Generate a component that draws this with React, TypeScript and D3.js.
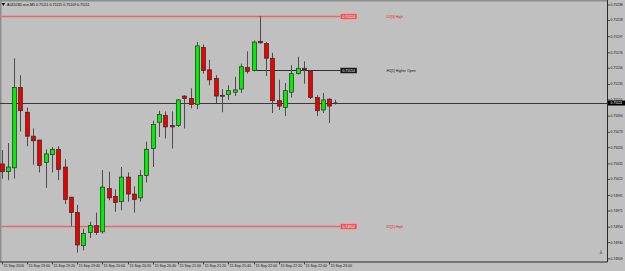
import React from 'react';
import * as d3 from 'd3';

const width = 625;
const height = 271;

// chart area (price axis on the right, time axis at the bottom)
const plotRight = 607.5;
const plotBottom = 262;

const title = 'AUDUSD.ecn,M5  0.75111 0.75115 0.75109 0.75111';

// one label every 4 bars (20 minutes of M5 bars)
const timeLabels = [
  '15 Sep 2016', '15 Sep 19:00', '15 Sep 19:20', '15 Sep 19:40', '15 Sep 20:00',
  '15 Sep 20:20', '15 Sep 20:40', '15 Sep 21:00', '15 Sep 21:20', '15 Sep 21:40',
  '15 Sep 22:00', '15 Sep 22:20', '15 Sep 22:40', '15 Sep 23:00'
];

const opens = [
  0.75032, 0.75022, 0.75027, 0.75131, 0.75099, 0.75068, 0.75063, 0.75034, 0.75044, 0.75051,
  0.75028, 0.74989, 0.74969, 0.74926, 0.74943, 0.74952, 0.74944, 0.75000, 0.74990, 0.74983,
  0.75015, 0.74993, 0.74988, 0.75017, 0.75052, 0.75086, 0.75095, 0.75082, 0.75082, 0.75120,
  0.75117, 0.75109, 0.75183, 0.75154, 0.75143, 0.75121, 0.75122, 0.75125, 0.75129, 0.75157,
  0.75153, 0.75191, 0.75188, 0.75169, 0.75114, 0.75105, 0.75125, 0.75149, 0.75156, 0.75152,
  0.75118, 0.75102, 0.75116, 0.75111
];
const highs = [
  0.75050, 0.75059, 0.75169, 0.75147, 0.75105, 0.75078, 0.75063, 0.75051, 0.75054, 0.75055,
  0.75038, 0.74989, 0.74979, 0.74948, 0.74957, 0.74969, 0.75024, 0.75022, 0.74999, 0.75028,
  0.75021, 0.75003, 0.75024, 0.75061, 0.75088, 0.75101, 0.75100, 0.75100, 0.75116, 0.75121,
  0.75130, 0.75190, 0.75187, 0.75167, 0.75147, 0.75129, 0.75134, 0.75145, 0.75162, 0.75178,
  0.75192, 0.75224, 0.75190, 0.75176, 0.75141, 0.75137, 0.75160, 0.75171, 0.75165, 0.75154,
  0.75121, 0.75124, 0.75117, 0.75115
];
const lows = [
  0.75013, 0.75011, 0.75013, 0.75074, 0.75055, 0.75031, 0.75021, 0.75001, 0.75021, 0.75011,
  0.74980, 0.74951, 0.74917, 0.74920, 0.74936, 0.74940, 0.74942, 0.74985, 0.74970, 0.74972,
  0.74983, 0.74969, 0.74983, 0.75008, 0.75028, 0.75067, 0.75065, 0.75052, 0.75080, 0.75078,
  0.75104, 0.75103, 0.75149, 0.75134, 0.75111, 0.75099, 0.75115, 0.75120, 0.75124, 0.75149,
  0.75152, 0.75188, 0.75146, 0.75098, 0.75102, 0.75094, 0.75118, 0.75148, 0.75136, 0.75116,
  0.75094, 0.75098, 0.75085, 0.75109
];
const closes = [
  0.75022, 0.75028, 0.75131, 0.75101, 0.75068, 0.75062, 0.75030, 0.75045, 0.75051, 0.75025,
  0.74986, 0.74969, 0.74927, 0.74942, 0.74952, 0.74943, 0.75002, 0.74988, 0.74982, 0.75015,
  0.74993, 0.74986, 0.75017, 0.75051, 0.75083, 0.75096, 0.75080, 0.75080, 0.75115, 0.75117,
  0.75109, 0.75185, 0.75153, 0.75141, 0.75120, 0.75120, 0.75127, 0.75128, 0.75158, 0.75152,
  0.75190, 0.75189, 0.75169, 0.75114, 0.75107, 0.75127, 0.75149, 0.75156, 0.75154, 0.75118,
  0.75101, 0.75115, 0.75107, 0.75111
];

const priceTicks = [
  '0.75238', '0.75218', '0.75197', '0.75176', '0.75156', '0.75135', '0.75115', '0.75094',
  '0.75073', '0.75053', '0.75032', '0.75012', '0.74991', '0.74971', '0.74950', '0.74930', '0.74909'
];

const levelPrices = [0.75224, 0.75154, 0.74952];
const levelNames = ['D1[0] High', 'H1[1] Higher Open', 'D1[1] High'];
const levelStartBars = [0, 40, 0];
const levelKinds = ['high', 'open', 'high'];

const lastPrice = 0.75111;

const font = '"Liberation Sans", Arial, sans-serif';

function App() {
  const n = opens.length;
  const x = d3.scaleLinear().domain([0, 1]).range([1.5, 7.8]);
  const y = d3.scaleLinear().domain([0.749049, 0.752445]).range([plotBottom, 0]);

  const bodyW = 4;
  const lastX = x(n - 1);
  const boxX = lastX + 5;
  const nameX = lastX + 51;

  const candles = d3.range(n).map(i => {
    const o = opens[i], c = closes[i];
    const cx = Math.round(x(i)) + 0.5;
    const top = y(Math.max(o, c));
    const bot = y(Math.min(o, c));
    const flat = Math.abs(o - c) < 0.000005;
    const fill = c > o ? '#00ee00' : '#ee0000';
    return (
      <g key={i}>
        <line x1={cx} x2={cx} y1={y(highs[i])} y2={y(lows[i])} stroke="#4d4d4d" strokeWidth={1} />
        {flat ? (
          <line x1={cx - bodyW / 2} x2={cx + bodyW / 2} y1={top} y2={top} stroke="#333" strokeWidth={1} />
        ) : (
          <rect x={cx - bodyW / 2} y={top} width={bodyW} height={Math.max(1, bot - top)}
            fill={fill} stroke="#2b2b2b" strokeWidth={0.7} />
        )}
      </g>
    );
  });

  return (
    <svg width={width} height={height} style={{ position: 'fixed', left: 0, top: 0 }}
      fontFamily={font}>
      <rect width={width} height={height} fill="#c0c0c0" />
      <rect x={0} y={0} width={plotRight} height={1.5} fill="#8e8e8e" />
      <rect x={0} y={0} width={1.5} height={plotBottom} fill="#8e8e8e" />

      {/* horizontal levels */}
      {levelPrices.map((p, i) => {
        const ly = Math.round(y(p)) + 0.5;
        const red = levelKinds[i] === 'high';
        return (
          <g key={'lvl' + i}>
            <line x1={x(levelStartBars[i])} x2={boxX} y1={ly} y2={ly}
              stroke={red ? '#e26a6a' : '#303030'} strokeWidth={red ? 1.3 : 1} />
            <rect x={boxX} y={ly - 2.6} width={16.5} height={5.2}
              fill={red ? '#ef4f4f' : '#111'} stroke={red ? '#f7a0a0' : '#666'} strokeWidth={0.4} />
            <text x={boxX + 8.25} y={ly} fontSize={3.4} fill="#fff" textAnchor="middle"
              dominantBaseline="central">{p.toFixed(5)}</text>
            <text x={nameX} y={ly} fontSize={3.5} fill={red ? '#e02020' : '#111'}
              dominantBaseline="central">{levelNames[i]}</text>
          </g>
        );
      })}

      {/* last price line */}
      <line x1={0} x2={plotRight} y1={Math.round(y(lastPrice)) + 0.5} y2={Math.round(y(lastPrice)) + 0.5}
        stroke="#3a3a3a" strokeWidth={1} />

      {candles}

      {/* title */}
      <path d="M1.5,3 L5,3 L3.25,6 Z" fill="#000" />
      <text x={7} y={4.6} fontSize={3.6} fill="#000" dominantBaseline="central">{title}</text>

      {/* price axis */}
      <line x1={plotRight} x2={plotRight} y1={0} y2={plotBottom} stroke="#2a2a2a" strokeWidth={1} />
      {priceTicks.map(t => {
        const ty = y(+t);
        return (
          <g key={t}>
            <line x1={plotRight} x2={plotRight + 2.5} y1={ty} y2={ty} stroke="#2a2a2a" strokeWidth={0.8} />
            <text x={610.5} y={ty} fontSize={3.4} fill="#111" dominantBaseline="central">{t}</text>
          </g>
        );
      })}
      <rect x={plotRight + 0.5} y={y(lastPrice) - 2.5} width={width - plotRight} height={5} fill="#000" />
      <text x={610.5} y={y(lastPrice)} fontSize={3.4} fill="#fff" dominantBaseline="central">
        {lastPrice.toFixed(5)}
      </text>

      {/* time axis */}
      <line x1={0} x2={plotRight} y1={plotBottom} y2={plotBottom} stroke="#2a2a2a" strokeWidth={1} />
      {timeLabels.map((t, j) => {
        const tx = Math.round(x(j * 4)) + 0.5;
        return (
          <g key={t}>
            <line x1={tx} x2={tx} y1={plotBottom} y2={plotBottom + 2.5} stroke="#2a2a2a" strokeWidth={0.8} />
            <text x={tx + 1} y={265.6} fontSize={3.6} fill="#111" dominantBaseline="central">{t}</text>
          </g>
        );
      })}

      {/* chart shift mark */}
      <path d="M599.5,254 L602.5,254 L601,249 Z" fill="#8a8a8a" />
    </svg>
  );
}

export default App;
